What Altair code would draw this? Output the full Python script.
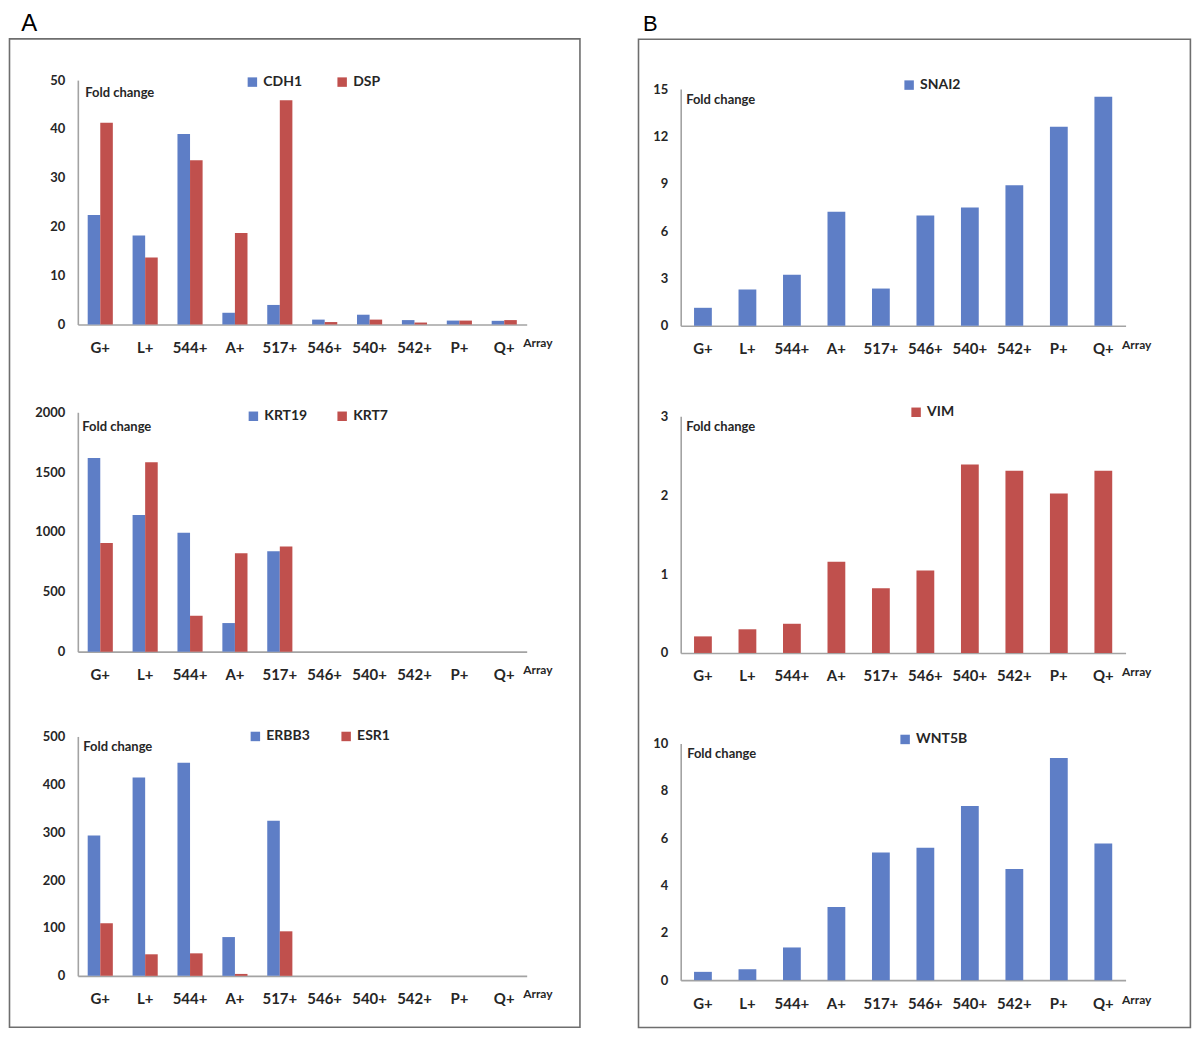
import altair as alt
import pandas as pd

categories = ["G+", "L+", "544+", "A+", "517+", "546+", "540+", "542+", "P+", "Q+"]

cdh1 = [22.4, 18.2, 39.0, 2.4, 4.0, 1.0, 2.0, 0.9, 0.8, 0.75]
dsp = [41.3, 13.7, 33.6, 18.7, 45.9, 0.5, 1.0, 0.4, 0.8, 0.9]
krt19 = [1617, 1142, 994, 239, 839, 0, 0, 0, 0, 0]
krt7 = [908, 1583, 300, 822, 878, 0, 0, 0, 0, 0]
erbb3 = [293, 414, 445, 81, 324, 0, 0, 0, 0, 0]
esr1 = [110, 45, 47, 4, 93, 0, 0, 0, 0, 0]
snai2 = [1.14, 2.3, 3.24, 7.23, 2.36, 6.99, 7.5, 8.91, 12.62, 14.51]
vim = [0.21, 0.30, 0.37, 1.155, 0.82, 1.045, 2.39, 2.31, 2.02, 2.31]
wnt5b = [0.35, 0.46, 1.38, 3.09, 5.39, 5.59, 7.36, 4.70, 9.38, 5.77]

ticks_a1 = [0, 10, 20, 30, 40, 50]
ticks_a2 = [0, 500, 1000, 1500, 2000]
ticks_a3 = [0, 100, 200, 300, 400, 500]
ticks_b1 = [0, 3, 6, 9, 12, 15]
ticks_b2 = [0, 1, 2, 3]
ticks_b3 = [0, 2, 4, 6, 8, 10]

BLUE = "#5E7EC6"
RED = "#C0504D"


def panel(series, colors, ticks, width, height, lx, ly, cpad, tx, ty, pad_inner, array_y):
    genes = [name for name, _ in series]
    rows = []
    for name, vals in series:
        for c, v in zip(categories, vals):
            rows.append({"Array": c, "Gene": name, "Fold": v})
    df = pd.DataFrame(rows)
    enc = dict(
        x=alt.X("Array:N", sort=categories,
                scale=alt.Scale(paddingInner=pad_inner, paddingOuter=pad_inner / 2),
                axis=alt.Axis(title="Array", titleX=width - 4, titleY=array_y,
                              titleAlign="left", titleBaseline="middle", labelAngle=0)),
        y=alt.Y("Fold:Q", scale=alt.Scale(domain=[0, ticks[-1]], nice=False, zero=True),
                axis=alt.Axis(values=ticks, format="d", title="Fold change", titleAngle=0,
                              titleX=tx, titleY=ty, titleAlign="left", titleBaseline="middle")),
        color=alt.Color("Gene:N", sort=genes,
                        scale=alt.Scale(domain=genes, range=colors),
                        legend=alt.Legend(orient="none", legendX=lx, legendY=ly,
                                          direction="horizontal", title=None,
                                          columnPadding=cpad)),
    )
    if len(genes) > 1:
        enc["xOffset"] = alt.XOffset("Gene:N", sort=genes, scale=alt.Scale(domain=genes))
    bars = alt.Chart(df).mark_bar().encode(**enc).properties(width=width, height=height)
    return bars


def frame(label, x1, x2, y1, y2, lx, ly, fs):
    d = pd.DataFrame({"panel": [label]})
    rect = alt.Chart(d).mark_rect(fill="white", fillOpacity=0, stroke="#6e6e6e",
                                  strokeWidth=1.6).encode(
        x=alt.value(x1), x2=alt.value(x2), y=alt.value(y1), y2=alt.value(y2))
    txt = alt.Chart(d).mark_text(font="Liberation Sans", fontSize=fs, align="left",
                                 baseline="top", color="black").encode(
        text="panel:N", x=alt.value(lx), y=alt.value(ly))
    return rect, txt


def spacer(width, height):
    d = pd.DataFrame({"s": [0]})
    return alt.Chart(d).mark_point(opacity=0, size=1).encode(
        x=alt.value(1), y=alt.value(1)).properties(width=width, height=height)


WA, WB = 450, 446

a1 = panel([("CDH1", cdh1), ("DSP", dsp)], [BLUE, RED], ticks_a1, WA, 245,
           168, -5, 33, 7, 12, 0.44, 18)
a2 = panel([("KRT19", krt19), ("KRT7", krt7)], [BLUE, RED], ticks_a2, WA, 240,
           169, -3, 28, 4, 14, 0.44, 18)
a3 = panel([("ERBB3", erbb3), ("ESR1", esr1)], [BLUE, RED], ticks_a3, WA, 240,
           171, -7, 29, 5, 10, 0.44, 18)
b1 = panel([("SNAI2", snai2)], [BLUE], ticks_b1, WB, 237.3, 222, -11, 30, 5, 10, 0.6, 19)
b2 = panel([("VIM", vim)], [RED], ticks_b2, WB, 237.3, 229, -11, 30, 5, 10, 0.6, 19)
b3 = panel([("WNT5B", wnt5b)], [BLUE], ticks_b3, WB, 237.3, 218, -11, 30, 6, 10, 0.6, 19)

ra, ta = frame("A", -68.5, 503.4, -41.3, 949.5, -56.8, -68, 24)
rb, tb = frame("B", -42.3, 511, -50, 940.8, -37.7, -75.2, 22)

A1 = alt.layer(a1, ra, ta).properties(width=WA, height=245)
B1 = alt.layer(b1, rb, tb).properties(width=WB, height=237.3)

res = dict(color="independent", x="independent", y="independent", xOffset="independent")

colA = alt.vconcat(A1, spacer(WA, 88), a2, spacer(WA, 85), a3,
                   spacing=0, bounds="flush").resolve_scale(**res).resolve_legend(color="independent")
colB = alt.vconcat(spacer(WB, 8.7), B1, spacer(WB, 90), b2, spacer(WB, 89.7), b3,
                   spacing=0, bounds="flush").resolve_scale(**res).resolve_legend(color="independent")

chart = alt.hconcat(colA, colB, spacing=55.4).resolve_scale(**res).resolve_legend(
    color="independent"
).properties(
    padding={"left": 0, "top": 3, "right": 0, "bottom": 0},
    background="white",
).configure_view(
    stroke=None
).configure_axis(
    domainColor="#a3a3a3", domainWidth=1.6, ticks=False, tickSize=0, grid=False,
    labelFont="Lato", labelFontWeight="bold", labelColor="#262626",
    titleFont="Lato", titleFontWeight="bold", titleColor="#262626",
).configure_axisX(
    labelFontSize=15, labelPadding=16, titleFontSize=12,
).configure_axisY(
    labelFontSize=13, labelPadding=13, titleFontSize=13,
).configure_legend(
    symbolType="square", symbolSize=90, symbolStrokeWidth=0,
    labelFont="Lato", labelFontSize=14, labelFontWeight="bold", labelColor="#262626",
    labelOffset=4, padding=0,
)

chart.save("out.html", embed_options={"renderer": "svg", "actions": False})
